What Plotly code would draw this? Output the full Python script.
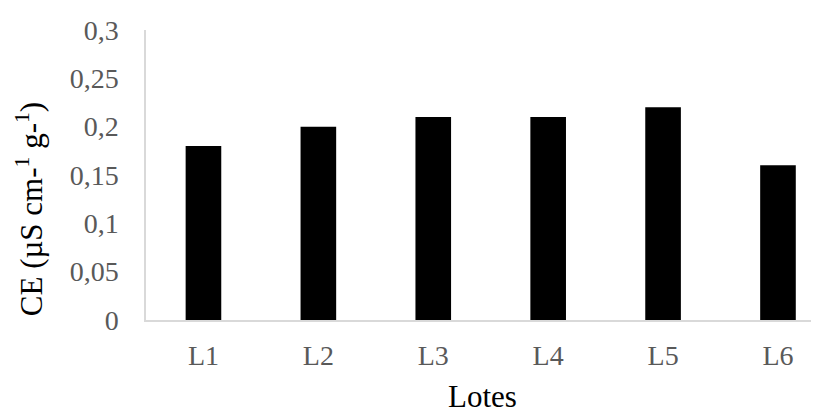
import plotly.graph_objects as go

categories = ["L1", "L2", "L3", "L4", "L5", "L6"]
values = [0.18, 0.20, 0.21, 0.21, 0.22, 0.16]
y_ticks = [0, 0.05, 0.1, 0.15, 0.2, 0.25, 0.3]
y_tick_labels = ["0", "0,05", "0,1", "0,15", "0,2", "0,25", "0,3"]

FONT = "Liberation Serif, Times New Roman, serif"

fig = go.Figure(go.Bar(
    x=list(range(len(categories))), y=values,
    marker=dict(color="black", line=dict(width=0)),
    width=0.31,
))

fig.update_layout(
    width=811, height=406,
    margin=dict(l=137.5, r=0, t=21.5, b=93.5),
    plot_bgcolor="white", paper_bgcolor="white",
    showlegend=False,
    font=dict(family=FONT, size=28, color="#595959"),
)
fig.update_xaxes(
    range=[-0.5, 5.357],
    tickvals=list(range(len(categories))), ticktext=categories,
    showgrid=False, zeroline=False,
    showline=True, linecolor="#d9d9d9", linewidth=1.5,
    ticks="", ticklabelstandoff=10,
    tickfont=dict(family=FONT, size=28, color="#595959"),
    title=dict(text="Lotes", font=dict(family=FONT, size=31, color="black"), standoff=21),
    automargin=False,
)
fig.update_yaxes(
    range=[0, 0.3],
    tickvals=y_ticks, ticktext=y_tick_labels,
    showgrid=False, zeroline=False,
    showline=True, linecolor="#d9d9d9", linewidth=1.5,
    ticks="", ticklabelstandoff=20,
    tickfont=dict(family=FONT, size=28, color="#595959"),
    automargin=False,
)
fig.add_annotation(
    text="CE (µS cm-<sup>1</sup> g-<sup>1</sup>)",
    xref="paper", yref="paper", x=-0.172, y=0.383,
    xanchor="center", yanchor="middle", textangle=-90, showarrow=False,
    font=dict(family=FONT, size=31, color="black"),
)

fig.write_html("out.html")
